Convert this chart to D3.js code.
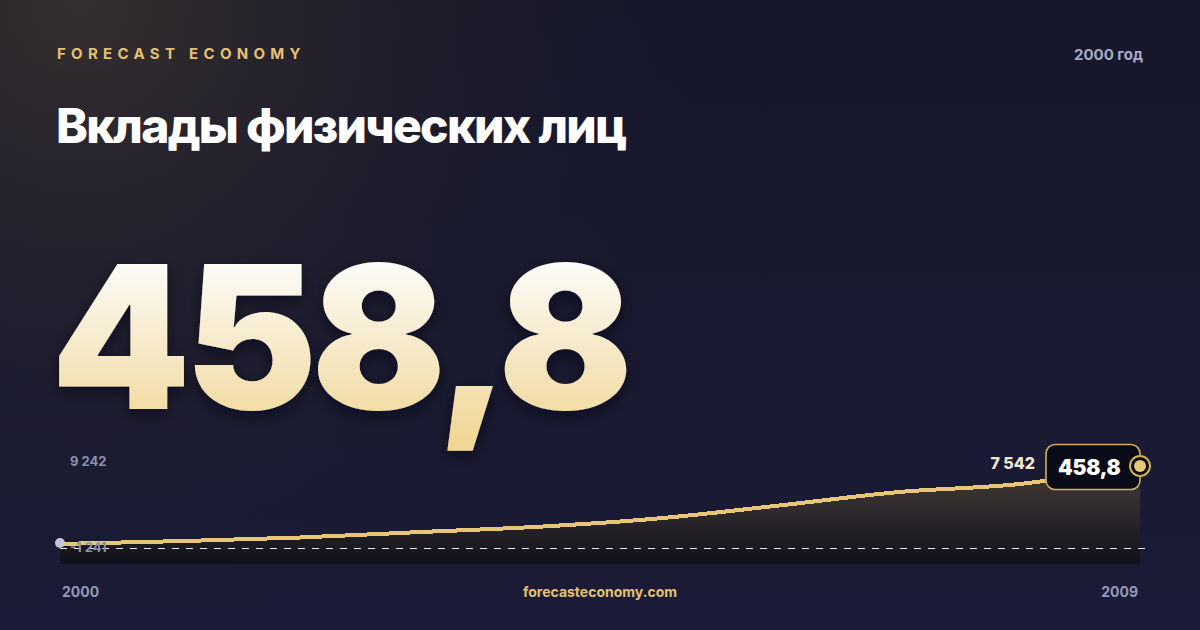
<!DOCTYPE html>
<html>
<head>
<meta charset="utf-8">
<script src="https://cdn.jsdelivr.net/npm/d3@7"></script>
<style>
  html, body { margin: 0; padding: 0; background: #16182c; }
  svg { display: block; }
  text { font-family: Inter, "Noto Sans", sans-serif; }
</style>
</head>
<body>
<svg id="chart" width="1200" height="630"></svg>
<script>
// Вклады физических лиц, млрд руб.
const years = [2000, 2001, 2002, 2003, 2004, 2005, 2006, 2007, 2008, 2009];
const deposits = [458.8, 720, 1045, 1540, 2030, 2790, 3960, 5180, 5905, 7542];
const yDomain = [-1241, 9242];
const yLabels = ['9 242', '-1 241'];
const brand = 'FORECAST ECONOMY';
const title = 'Вклады физических лиц';
const currentYear = '2000 год';
const currentValue = '458,8';
const lastLabel = '7 542';
const site = 'forecasteconomy.com';

const svg = d3.select('#chart');
const W = 1200, H = 630;
const defs = svg.append('defs');

// background
const bg = defs.append('linearGradient').attr('id', 'bg')
    .attr('x1', 0).attr('y1', 0).attr('x2', 0).attr('y2', 1);
bg.append('stop').attr('offset', '0%').attr('stop-color', '#16172a');
bg.append('stop').attr('offset', '100%').attr('stop-color', '#1b1b37');

const glow = defs.append('radialGradient').attr('id', 'glow')
    .attr('gradientUnits', 'userSpaceOnUse')
    .attr('cx', 80).attr('cy', 0).attr('r', 650);
glow.append('stop').attr('offset', '0%').attr('stop-color', '#4a3e30').attr('stop-opacity', 0.6);
glow.append('stop').attr('offset', '50%').attr('stop-color', '#332c2c').attr('stop-opacity', 0.3);
glow.append('stop').attr('offset', '100%').attr('stop-color', '#16172a').attr('stop-opacity', 0);

svg.append('rect').attr('width', W).attr('height', H).attr('fill', 'url(#bg)');
svg.append('rect').attr('width', W).attr('height', H).attr('fill', 'url(#glow)');

// header
svg.append('text')
    .attr('x', 57).attr('y', 59)
    .attr('fill', '#e2c271')
    .attr('font-size', 15).attr('font-weight', 700)
    .attr('letter-spacing', 5.3)
    .text(brand);

svg.append('text')
    .attr('x', 1143).attr('y', 60)
    .attr('text-anchor', 'end')
    .attr('fill', '#a9acc8')
    .attr('font-size', 15).attr('font-weight', 700)
    .text(currentYear);

svg.append('text')
    .attr('x', 56).attr('y', 143)
    .attr('fill', '#ffffff')
    .attr('font-size', 48).attr('font-weight', 800)
    .attr('letter-spacing', -1.7)
    .text(title);

// big number
const bigGrad = defs.append('linearGradient').attr('id', 'bigGrad')
    .attr('gradientUnits', 'userSpaceOnUse')
    .attr('x1', 0).attr('y1', 262).attr('x2', 0).attr('y2', 438);
bigGrad.append('stop').attr('offset', '0%').attr('stop-color', '#fcfbf8');
bigGrad.append('stop').attr('offset', '100%').attr('stop-color', '#f1d797');

const shadow = defs.append('filter').attr('id', 'shadow')
    .attr('x', '-10%').attr('y', '-10%').attr('width', '120%').attr('height', '130%');
shadow.append('feDropShadow')
    .attr('dx', 0).attr('dy', 5).attr('stdDeviation', 7)
    .attr('flood-color', '#05060f').attr('flood-opacity', 0.55);

svg.append('text')
    .attr('x', 51).attr('y', 409)
    .attr('fill', 'url(#bigGrad)')
    .attr('font-size', 199).attr('font-weight', 900)
    .attr('letter-spacing', -6)
    .attr('filter', 'url(#shadow)')
    .text(currentValue);

// chart
const x = d3.scaleLinear()
    .domain([years[0], years[years.length - 1]])
    .range([60, 1140]);
const y = d3.scaleLinear()
    .domain(yDomain)
    .range([562.7, 447.2]);
const floor = 564;

const rows = years.map((yr, i) => ({ year: yr, value: deposits[i] }));

const areaGrad = defs.append('linearGradient').attr('id', 'areaGrad')
    .attr('gradientUnits', 'userSpaceOnUse')
    .attr('x1', 0).attr('y1', 466).attr('x2', 0).attr('y2', floor);
areaGrad.append('stop').attr('offset', '0%').attr('stop-color', '#433a34');
areaGrad.append('stop').attr('offset', '45%').attr('stop-color', '#2f2a2d');
areaGrad.append('stop').attr('offset', '100%').attr('stop-color', '#11111b');

const area = d3.area()
    .x(d => x(d.year))
    .y0(floor)
    .y1(d => y(d.value))
    .curve(d3.curveMonotoneX);

const line = d3.line()
    .x(d => x(d.year))
    .y(d => y(d.value))
    .curve(d3.curveMonotoneX);

svg.append('path')
    .datum(rows)
    .attr('fill', 'url(#areaGrad)')
    .attr('d', area);

// zero line
svg.append('line')
    .attr('x1', x(years[0])).attr('x2', 1146)
    .attr('y1', Math.round(y(0)) - 0.5).attr('y2', Math.round(y(0)) - 0.5)
    .attr('stroke', '#e6e6ee').attr('stroke-width', 1.2)
    .attr('stroke-dasharray', '7,7');

svg.append('path')
    .datum(rows)
    .attr('fill', 'none')
    .attr('stroke', '#e8c677')
    .attr('stroke-width', 4)
    .attr('shape-rendering', 'crispEdges')
    .attr('d', line);

// y labels
svg.append('text')
    .attr('x', 70).attr('y', 466)
    .attr('fill', '#8d90ad')
    .attr('font-size', 13).attr('font-weight', 700)
    .text(yLabels[0]);
svg.append('text')
    .attr('x', 70).attr('y', 552)
    .attr('fill', '#8d90ad')
    .attr('font-size', 13).attr('font-weight', 700)
    .text(yLabels[1]);

// start point
svg.append('circle')
    .attr('cx', x(years[0])).attr('cy', y(deposits[0]) - 1)
    .attr('r', 5).attr('fill', '#c3c6dc');

// last value label
const last = rows[rows.length - 1];
svg.append('text')
    .attr('x', 1035).attr('y', 469)
    .attr('text-anchor', 'end')
    .attr('fill', '#f0e6cf')
    .attr('font-size', 16).attr('font-weight', 800)
    .text(lastLabel);

// badge
svg.append('rect')
    .attr('x', 1046).attr('y', 444.5)
    .attr('width', x(last.year) - 1046).attr('height', 45)
    .attr('rx', 9)
    .attr('fill', '#0a0b18')
    .attr('stroke', '#d4ae57').attr('stroke-width', 1.6);
svg.append('text')
    .attr('x', 1058).attr('y', 474.5)
    .attr('fill', '#ffffff')
    .attr('font-size', 21).attr('font-weight', 900)
    .attr('letter-spacing', -0.3)
    .text(currentValue);

svg.append('circle')
    .attr('cx', x(last.year)).attr('cy', y(last.value))
    .attr('r', 10)
    .attr('fill', '#0a0b18')
    .attr('stroke', '#d4ae57').attr('stroke-width', 2);
svg.append('circle')
    .attr('cx', x(last.year)).attr('cy', y(last.value))
    .attr('r', 6)
    .attr('fill', '#e8c677');

// x labels + footer
svg.append('text')
    .attr('x', 62).attr('y', 597)
    .attr('fill', '#9497b5')
    .attr('font-size', 14).attr('font-weight', 700)
    .text(years[0]);
svg.append('text')
    .attr('x', 1138).attr('y', 597)
    .attr('text-anchor', 'end')
    .attr('fill', '#9497b5')
    .attr('font-size', 14).attr('font-weight', 700)
    .text(years[years.length - 1]);
svg.append('text')
    .attr('x', 600).attr('y', 597)
    .attr('text-anchor', 'middle')
    .attr('fill', '#e2c271')
    .attr('font-size', 14).attr('font-weight', 700)
    .text(site);
</script>
</body>
</html>
